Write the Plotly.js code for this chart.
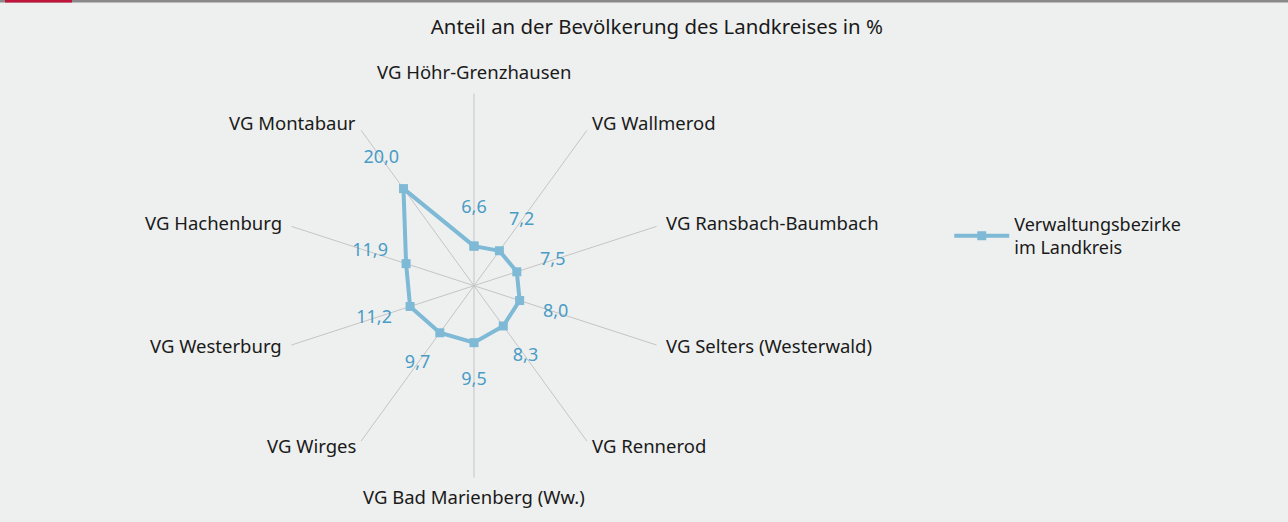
<!DOCTYPE html>
<html>
<head>
<meta charset="utf-8">
<script src="https://cdn.plot.ly/plotly-3.0.1.min.js"></script>
<style>html,body{margin:0;padding:0;background:#eef0ef;}#chart{width:1288px;height:522px;}</style>
</head>
<body>
<div id="chart"></div>
<script>
const categories = [
  "VG Höhr-Grenzhausen",
  "VG Wallmerod",
  "VG Ransbach-Baumbach",
  "VG Selters (Westerwald)",
  "VG Rennerod",
  "VG Bad Marienberg (Ww.)",
  "VG Wirges",
  "VG Westerburg",
  "VG Hachenburg",
  "VG Montabaur"
];
const values = [6.6, 7.2, 7.5, 8.0, 8.3, 9.5, 9.7, 11.2, 11.9, 20.0];
const seriesName = "Verwaltungsbezirke<br>im Landkreis";
const chartTitle = "Anteil an der Bevölkerung des Landkreises in %";

const W = 1288, H = 522;
const radialMax = 32;
const labelText = values.map(v => v.toFixed(1).replace('.', ','));
const labelOffset = 6.3;

const lineColor = '#7eb9d6';
const labelColor = '#4a9cc6';
const FONT = 'Noto Sans, Open Sans, sans-serif';

// polar geometry (pixels): centre and spoke length
const CX = 474, CY = 285.7, R = 192;
const polarDomain = {
  x: [(CX - R) / W, (CX + R) / W],
  y: [1 - (CY + R) / H, 1 - (CY - R) / H]
};

// category labels placed just beyond each spoke end
const catAnnotations = categories.map((c, i) => {
  const a = i * 2 * Math.PI / categories.length;
  const s = Math.sin(a), co = Math.cos(a);
  const ex = CX + R * s, ey = CY - R * co;
  const side = Math.abs(s) < 1e-6 ? 0 : Math.sign(s);
  let yshift, xshift;
  if (side === 0) { yshift = co > 0 ? 22 : -19; xshift = 0; }
  else { yshift = 7.4 * co + 1.5; xshift = side * (11 * Math.abs(s) - 3.5); }
  return {
    text: c,
    xref: 'paper', yref: 'paper',
    x: ex / W, y: 1 - ey / H,
    xanchor: side > 0 ? 'left' : side < 0 ? 'right' : 'center',
    yanchor: 'middle',
    xshift: xshift,
    yshift: yshift,
    showarrow: false,
    font: {family: FONT, size: 18.5, color: '#1a1a1a'}
  };
});

const traces = [
  {
    type: 'scatterpolar',
    r: values.concat([values[0]]),
    theta: categories.concat([categories[0]]),
    mode: 'lines+markers',
    name: seriesName,
    line: {color: lineColor, width: 4},
    marker: {symbol: 'square', size: 9, color: lineColor},
    hoverinfo: 'skip'
  },
  {
    type: 'scatterpolar',
    r: values.map(v => v + labelOffset),
    theta: categories,
    mode: 'text',
    text: labelText,
    textfont: {family: FONT, size: 18, color: labelColor},
    showlegend: false,
    hoverinfo: 'skip'
  }
];

const layout = {
  width: W, height: H,
  paper_bgcolor: '#eef0ef',
  plot_bgcolor: '#eef0ef',
  margin: {l: 0, r: 0, t: 0, b: 0},
  font: {family: FONT, size: 18, color: '#1a1a1a'},
  title: {
    text: chartTitle,
    x: 0.51, xanchor: 'center',
    y: 0.948, yanchor: 'middle',
    font: {family: FONT, size: 20.4, color: '#1a1a1a'}
  },
  polar: {
    domain: polarDomain,
    bgcolor: 'rgba(0,0,0,0)',
    radialaxis: {range: [0, radialMax], visible: false, showgrid: false},
    angularaxis: {
      direction: 'clockwise',
      rotation: 90,
      showline: false,
      showgrid: true,
      gridcolor: '#c4c4c4',
      gridwidth: 1,
      ticks: '',
      showticklabels: false
    }
  },
  annotations: catAnnotations,
  showlegend: true,
  legend: {
    x: 0.737, xanchor: 'left',
    y: 0.6057, yanchor: 'top',
    bgcolor: 'rgba(0,0,0,0)',
    itemwidth: 55,
    font: {family: FONT, size: 18, color: '#1a1a1a'}
  },
  shapes: [
    {type: 'rect', xref: 'paper', yref: 'paper', x0: 0, x1: 1, y0: 1 - 2.5/H, y1: 1, fillcolor: '#8a8a8a', line: {width: 0}},
    {type: 'rect', xref: 'paper', yref: 'paper', x0: 5/W, x1: 72/W, y0: 1 - 2.5/H, y1: 1, fillcolor: '#c0143c', line: {width: 0}}
  ]
};

Plotly.newPlot('chart', traces, layout, {displayModeBar: false, staticPlot: true});
</script>
</body>
</html>
